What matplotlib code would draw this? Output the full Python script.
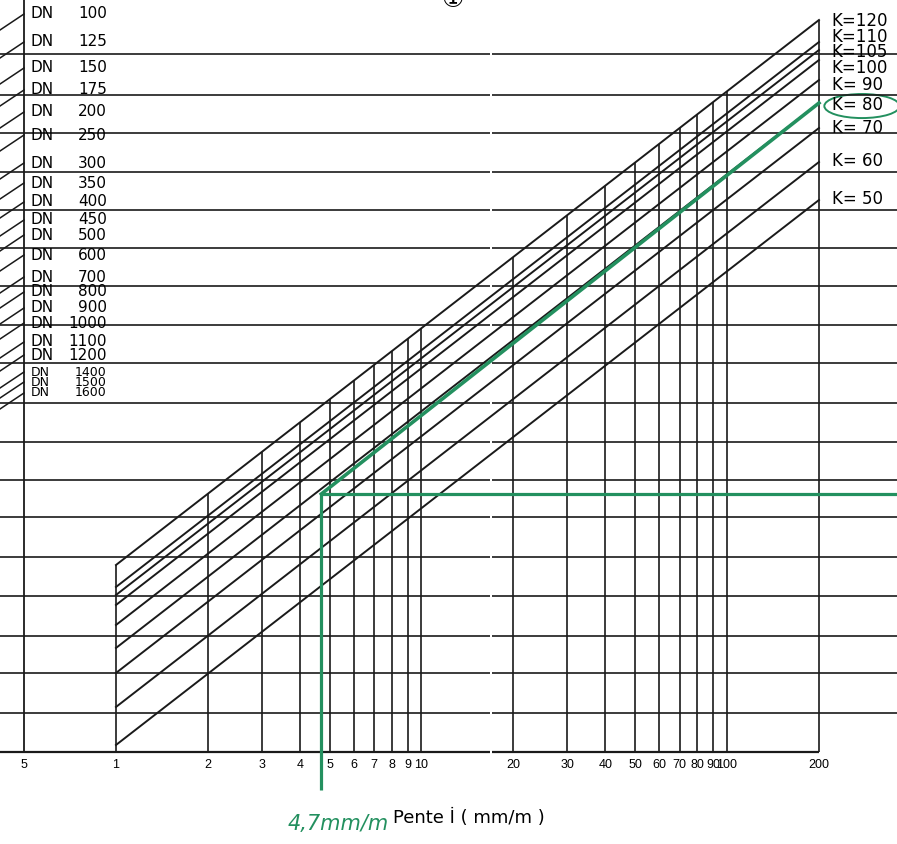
import numpy as np
import matplotlib.pyplot as plt
from matplotlib.patches import Ellipse
from matplotlib.ticker import NullLocator

plt.rcParams['font.family'] = ['DejaVu Sans', 'Noto Sans CJK JP']

# bottom scale : pente I (mm/m)
x_ticks = [0.5, 1, 2, 3, 4, 5, 6, 7, 8, 9, 10, 20, 30, 40, 50, 60, 70, 80, 90, 100, 200]
x_labels = ["5", "1", "2", "3", "4", "5", "6", "7", "8", "9", "10", "20", "30", "40",
            "50", "60", "70", "80", "90", "100", "200"]

# horizontal grid, heights above the base line (chart units)
h_lines = [39, 79, 116, 156, 195, 235, 272, 310, 349, 389, 427, 466, 504, 542, 580,
           619, 657, 698]

# Strickler lines : height at I = 1 and at I = 200
k_names = ["K=120", "K=110", "K=105", "K=100", "K= 90", "K= 80", "K= 70", "K= 60", "K= 50"]
k_at_1 = [187, 165, 157, 147, 127, 104, 79, 45, 7]
k_at_200 = [732, 710, 702, 692, 672, 649, 624, 590, 552]
k_label_y = [731, 715, 700, 684, 667, 647, 624, 591, 553]

# pipe diameters on the left scale
dn_values = [100, 125, 150, 175, 200, 250, 300, 350, 400, 450, 500, 600, 700, 800, 900,
             1000, 1100, 1200, 1400, 1500, 1600]
dn_y = [738, 710, 684, 662, 640, 617, 589, 569, 550, 532, 517, 497, 475, 460, 444, 429,
        410, 397, 380, 370, 359]

# worked example drawn in green pencil
i_example = 4.7
h_example = 258
green = '#23905f'

x_min, x_max = 0.4173, 360.1
gap = (16.7, 17.05)  # broken scale between 10 and 20

fig = plt.figure(figsize=(8.97, 8.44), dpi=100)
ax = fig.add_axes([0, 92 / 844, 1, 752 / 844])
ax.set_xscale('log')
ax.set_xlim(x_min, x_max)
ax.set_ylim(0, 752)
for s in ax.spines.values():
    s.set_visible(False)

lc = '#1a1a1a'
ax.hlines(h_lines, x_min, gap[0], color=lc, lw=1.2)
ax.hlines(h_lines, gap[1], x_max, color=lc, lw=1.2)
ax.hlines(0, x_min, gap[0], color=lc, lw=1.6, clip_on=False)
ax.hlines(0, gap[1], 200, color=lc, lw=1.6, clip_on=False)

# verticals stop on the K=120 line
for x in x_ticks[1:]:
    top = np.interp(np.log10(x), [0, np.log10(200)], [k_at_1[0], k_at_200[0]])
    ax.vlines(x, 0, top, color=lc, lw=1.2)
ax.vlines(0.5, 0, 760, color=lc, lw=1.3, clip_on=False)

for a, b in zip(k_at_1, k_at_200):
    ax.plot([1, 200], [a, b], color=lc, lw=1.4)
for name, y in zip(k_names, k_label_y):
    ax.text(220, y, name, ha='left', va='center', fontsize=12)

for v, y in zip(dn_values, dn_y):
    ax.plot([x_min, 0.5], [y - 16, y], color=lc, lw=1.1)
    fs = 11 if v < 1400 else 9
    ax.text(0.527, y, "DN", ha='left', va='center', fontsize=fs)
    ax.text(0.934, y, str(v), ha='right', va='center', fontsize=fs)

# green example
ax.vlines(i_example, -38, h_example, color=green, lw=2.3, clip_on=False)
ax.hlines(h_example, i_example, x_max, color=green, lw=2.3)
ax.plot([i_example, 200], [h_example, k_at_200[5]], color=green, lw=2.6)
ax.add_patch(Ellipse((0.961, 0.859), 0.084, 0.032, transform=ax.transAxes,
                     fill=False, ec=green, lw=1.4, clip_on=False))

ax.set_xticks(x_ticks, x_labels)
ax.xaxis.set_minor_locator(NullLocator())
ax.set_yticks([])
ax.tick_params(axis='x', length=0, pad=5, labelsize=9)
for lbl in ax.get_xticklabels():
    lbl.set_family('Liberation Sans')

fig.text(393 / 897, 1 - 818 / 844, "Pente İ ( mm/m )", ha='left', va='center', fontsize=13)
fig.text(288 / 897, 1 - 824 / 844, "4,7mm/m", ha='left', va='center', fontsize=15,
         style='italic', color=green)
fig.text(452 / 897, 1.0, "①", ha='center', va='center', fontsize=18)

fig.savefig('out.png', dpi=100)
